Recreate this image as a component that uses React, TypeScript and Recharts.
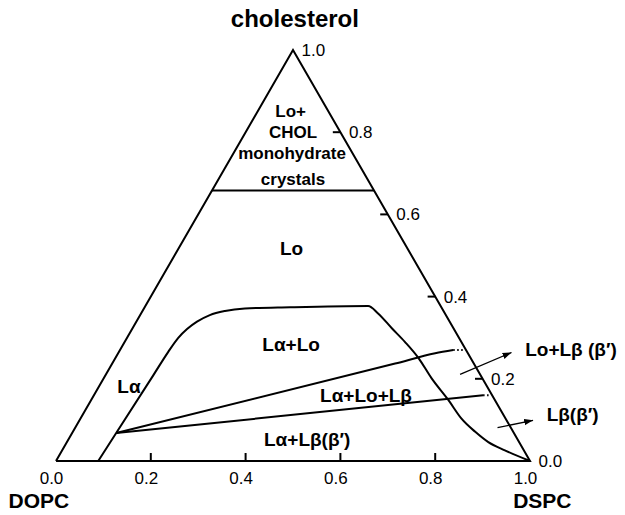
import { ComposedChart, Line, XAxis, YAxis, ReferenceLine, ReferenceDot } from 'recharts';

// ternary points are [DSPC fraction, cholesterol fraction]
type Pt = [number, number];

const triangleEdges: Pt[] = [[0, 0], [1, 0], [0, 1], [0, 0]];
const crystalBoundary: Pt[] = [[0, 0.658], [0.342, 0.658]];
const outerBoundary: Pt[] = [
    [0.089, 0], [0.093, 0.068], [0.101, 0.209], [0.104, 0.265], [0.108, 0.299],
    [0.116, 0.321], [0.128, 0.339], [0.147, 0.355], [0.174, 0.365], [0.213, 0.371],
    [0.307, 0.374], [0.470, 0.377], [0.500, 0.359],
    [0.547, 0.323], [0.591, 0.290], [0.639, 0.251], [0.692, 0.201], [0.754, 0.148],
    [0.804, 0.103], [0.849, 0.071], [0.889, 0.046], [0.934, 0.026], [1, 0],
];
const upperTieLine: Pt[] = [[0.093, 0.068], [0.597, 0.237], [0.669, 0.262], [0.703, 0.270]];
const upperTieDots: Pt[] = [[0.703, 0.270], [0.726, 0.270]];
const lowerTieLine: Pt[] = [[0.093, 0.068], [0.821, 0.160]];
const lowerTieDots: Pt[] = [[0.821, 0.160], [0.836, 0.160]];
const arrowLoLb: Pt[] = [[0.747, 0.211], [0.829, 0.264]];
const arrowLb: Pt[] = [[0.891, 0.081], [0.957, 0.099]];

const bottomTicks = [0.2, 0.4, 0.6, 0.8];
const bottomLabels = [0, 0.2, 0.4, 0.6, 0.8, 1.0];
const cholTicks = [0.2, 0.4, 0.6, 0.8];
const cholLabels = [0, 0.2, 0.4, 0.6, 0.8, 1.0];

const phaseLabels = [
    { text: 'Lo+', x: 0.495, y: 0.852, size: 17 },
    { text: 'CHOL', x: 0.5, y: 0.8, size: 17 },
    { text: 'monohydrate', x: 0.498, y: 0.749, size: 17 },
    { text: 'crystals', x: 0.5, y: 0.686, size: 17 },
    { text: 'Lo', x: 0.497, y: 0.518, size: 19 },
    { text: 'Lα+Lo', x: 0.496, y: 0.285, size: 19 },
    { text: 'Lα', x: 0.154, y: 0.181, size: 19 },
    { text: 'Lα+Lo+Lβ', x: 0.654, y: 0.16, size: 19 },
    { text: 'Lα+Lβ(β′)', x: 0.53, y: 0.054, size: 19 },
    { text: 'Lo+Lβ (β′)', x: 1.0865, y: 0.273, size: 19 },
    { text: 'Lβ(β′)', x: 1.09, y: 0.113, size: 19 },
    { text: 'cholesterol', x: 0.504, y: 1.077, size: 24 },
    { text: 'DOPC', x: -0.036, y: -0.097, size: 21 },
    { text: 'DSPC', x: 1.026, y: -0.097, size: 21 },
];

const toXY = ([s, c]: Pt) => ({ x: s + c / 2, y: c });

const lineProps = {
    dataKey: 'y',
    type: 'linear' as const,
    stroke: '#000',
    strokeWidth: 2,
    dot: false,
    activeDot: false,
    isAnimationActive: false,
};

export default function App() {
    return (
        <div style={{ position: 'absolute', left: 0, top: 0, background: '#fff', fontFamily: '"Liberation Sans", Arial, sans-serif' }}>
            <ComposedChart width={625} height={515} margin={{ top: 0, right: 0, bottom: 0, left: 0 }}>
                <defs>
                    <marker id="arrowHead" viewBox="0 0 10 10" refX="10" refY="5" markerWidth="9" markerHeight="9" markerUnits="userSpaceOnUse" orient="auto">
                        <path d="M0,1.5 L10,5 L0,8.5 z" fill="#000" />
                    </marker>
                </defs>
                <XAxis type="number" dataKey="x" domain={[-0.11814, 1.20042]} hide />
                <YAxis type="number" dataKey="y" domain={[-0.13139, 1.12165]} hide />

                <Line {...lineProps} data={triangleEdges.map(toXY)} />
                <Line {...lineProps} data={crystalBoundary.map(toXY)} />
                <Line {...lineProps} type="monotone" data={outerBoundary.map(toXY)} />
                <Line {...lineProps} type="monotone" data={upperTieLine.map(toXY)} />
                <Line {...lineProps} data={upperTieDots.map(toXY)} strokeDasharray="1.5 2.5" />
                <Line {...lineProps} data={lowerTieLine.map(toXY)} />
                <Line {...lineProps} data={lowerTieDots.map(toXY)} strokeDasharray="1.5 2.5" />
                <Line {...lineProps} data={arrowLoLb.map(toXY)} strokeWidth={1.3} markerEnd="url(#arrowHead)" />
                <Line {...lineProps} data={arrowLb.map(toXY)} strokeWidth={1.3} markerEnd="url(#arrowHead)" />

                {bottomTicks.map(t => (
                    <ReferenceLine key={'bt' + t} segment={[{ x: t, y: 0 }, { x: t, y: 0.0195 }]} stroke="#000" strokeWidth={2} />
                ))}
                {cholTicks.map(c => (
                    <ReferenceLine key={'ct' + c} segment={[{ x: 1 - c / 2 - 0.016, y: c }, { x: 1 - c / 2, y: c }]} stroke="#000" strokeWidth={2} />
                ))}
                {bottomLabels.map(t => (
                    <ReferenceDot key={'bl' + t} x={t} y={0} r={0} fill="none" stroke="none"
                        label={{ value: t.toFixed(1), position: 'bottom', offset: 11, dx: -4.5, fontSize: 17, fill: '#000' }} />
                ))}
                {cholLabels.map(c => (
                    <ReferenceDot key={'cl' + c} x={1 - c / 2} y={c} r={0} fill="none" stroke="none"
                        label={{ value: c.toFixed(1), position: 'right', offset: 8.5, fontSize: 17, fill: '#000' }} />
                ))}
                {phaseLabels.map(p => (
                    <ReferenceDot key={p.text} x={p.x} y={p.y} r={0} fill="none" stroke="none"
                        label={{ value: p.text, position: 'center', fontSize: p.size, fontWeight: 'bold', fill: '#000' }} />
                ))}
            </ComposedChart>
        </div>
    );
}
